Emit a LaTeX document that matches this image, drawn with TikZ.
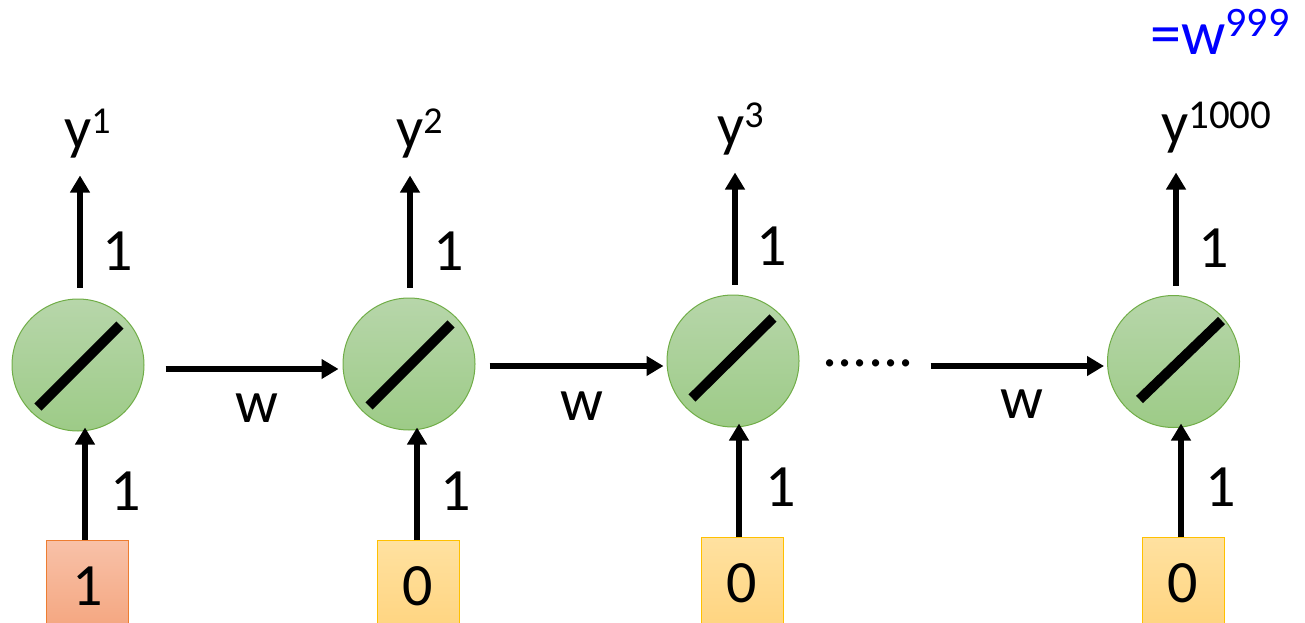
\documentclass[tikz,border=0pt]{standalone}
\usepackage{fontspec}
\setmainfont{Carlito}
\usetikzlibrary{arrows.meta,calc}
\definecolor{ntop}{RGB}{183,214,170}
\definecolor{nbot}{RGB}{157,203,135}
\definecolor{nedge}{RGB}{112,173,71}
\definecolor{otop}{RGB}{248,193,168}
\definecolor{obot}{RGB}{244,165,126}
\definecolor{oedge}{RGB}{237,125,49}
\definecolor{ytop}{RGB}{255,225,160}
\definecolor{ybot}{RGB}{255,212,127}
\definecolor{yedge}{RGB}{255,192,0}
\definecolor{eqblue}{RGB}{0,0,255}
\tikzset{
  neuron/.style={circle, minimum size=132pt, inner sep=0pt, draw=nedge, line width=1pt, top color=ntop, bottom color=nbot},
  inbox/.style={rectangle, anchor=north, minimum width=82pt, minimum height=92pt, inner sep=0pt, line width=1pt, font=\fontsize{60}{60}\selectfont},
  onebox/.style={inbox, draw=oedge, top color=otop, bottom color=obot},
  zerobox/.style={inbox, draw=yedge, top color=ytop, bottom color=ybot},
  arr/.style={line width=6pt, -{Triangle[length=17pt,width=19pt]}},
  bar/.style={line width=10pt, line cap=butt},
  lbl/.style={inner sep=0pt, anchor=base, font=\fontsize{60}{60}\selectfont},
  ylbl/.style={inner sep=0pt, anchor=base west, font=\fontsize{60}{60}\selectfont},
}
\newcommand{\supr}[3]{\raisebox{#2pt}{\fontsize{#1}{#1}\selectfont #3}}
\begin{document}
\begin{tikzpicture}[x=1pt,y=-1pt]
\useasboundingbox (0,0) rectangle (1305,623);
\clip (0,0) rectangle (1305,623);
% neurons
\node[neuron] (n1) at (78,365) {};
\node[neuron] (n2) at (409,364) {};
\node[neuron] (n3) at (733,361) {};
\node[neuron] (n4) at (1173.5,361.5) {};
\draw[bar] ($(n1)+(-40,42)$) -- ($(n1)+(42,-40)$);
\draw[bar] ($(n2)+(-40,42)$) -- ($(n2)+(42,-40)$);
\draw[bar] ($(n3)+(-41,37)$) -- ($(n3)+(40,-43)$);
\draw[bar] ($(n4)+(-34,38)$) -- ($(n4)+(48,-41)$);
% input boxes
\node[onebox] (b1) at (87.5,540) {1};
\node[zerobox] (b2) at (418,540) {0};
\node[zerobox] (b3) at (742,537) {0};
\node[zerobox] (b4) at (1183,537) {0};
% input arrows
\draw[arr] ($(b1.north)+(-2.5,0)$) -- ($(n1.south)+(7,-4)$);
\draw[arr] ($(b2.north)+(-1,0)$) -- ($(n2.south)+(8,-3)$);
\draw[arr] ($(b3.north)+(-3,0)$) -- ($(n3.south)+(6,-4)$);
\draw[arr] ($(b4.north)+(-2,0)$) -- ($(n4.south)+(7.5,-4.5)$);
% output labels
\node[ylbl] (y1) at (64,148) {y\supr{38}{15}{1}};
\node[ylbl] (y2) at (396,148) {y\supr{38}{15}{2}};
\node[ylbl] (y3) at (717,146) {y\supr{38}{18}{3}};
\node[ylbl] (y4) at (1161,143) {y\supr{41}{15}{1000}};
\node[ylbl, text=eqblue, font=\fontsize{62}{62}\selectfont] (eq) at (1150,55) {=w\supr{42}{18}{999}};
% output arrows
\draw[arr] ($(n1.north)+(2,-11)$) -- ($(n1.north)+(2,-123)$);
\draw[arr] ($(n2.north)+(1,-10)$) -- ($(n2.north)+(1,-122)$);
\draw[arr] ($(n3.north)+(2,-10)$) -- ($(n3.north)+(2,-122)$);
\draw[arr] ($(n4.north)+(2.5,-9.5)$) -- ($(n4.north)+(2.5,-122.5)$);
% recurrent arrows
\draw[arr] ($(n1.east)+(21,4)$) -- ($(n2.west)+(-4,5)$);
\draw[arr] ($(n2.east)+(14,2)$) -- ($(n3.west)+(-3,5)$);
\node[ylbl] (dots) at (822.5,366) {......};
\draw[arr] ($(n3.east)+(131,5)$) -- ($(n4.west)+(-3,4.5)$);
% weight labels
\node[lbl] (wo1) at (118,270) {1};
\node[lbl] (wo2) at (449,270) {1};
\node[lbl] (wo3) at (772,265) {1};
\node[lbl] (wo4) at (1214,267) {1};
\node[lbl] (wi1) at (126,510) {1};
\node[lbl] (wi2) at (456,510) {1};
\node[lbl] (wi3) at (781,506) {1};
\node[lbl] (wi4) at (1221,506) {1};
\node[lbl] (w1) at (257,422) {w};
\node[lbl] (w2) at (582,420) {w};
\node[lbl] (w3) at (1022,418) {w};
\end{tikzpicture}
\end{document}
